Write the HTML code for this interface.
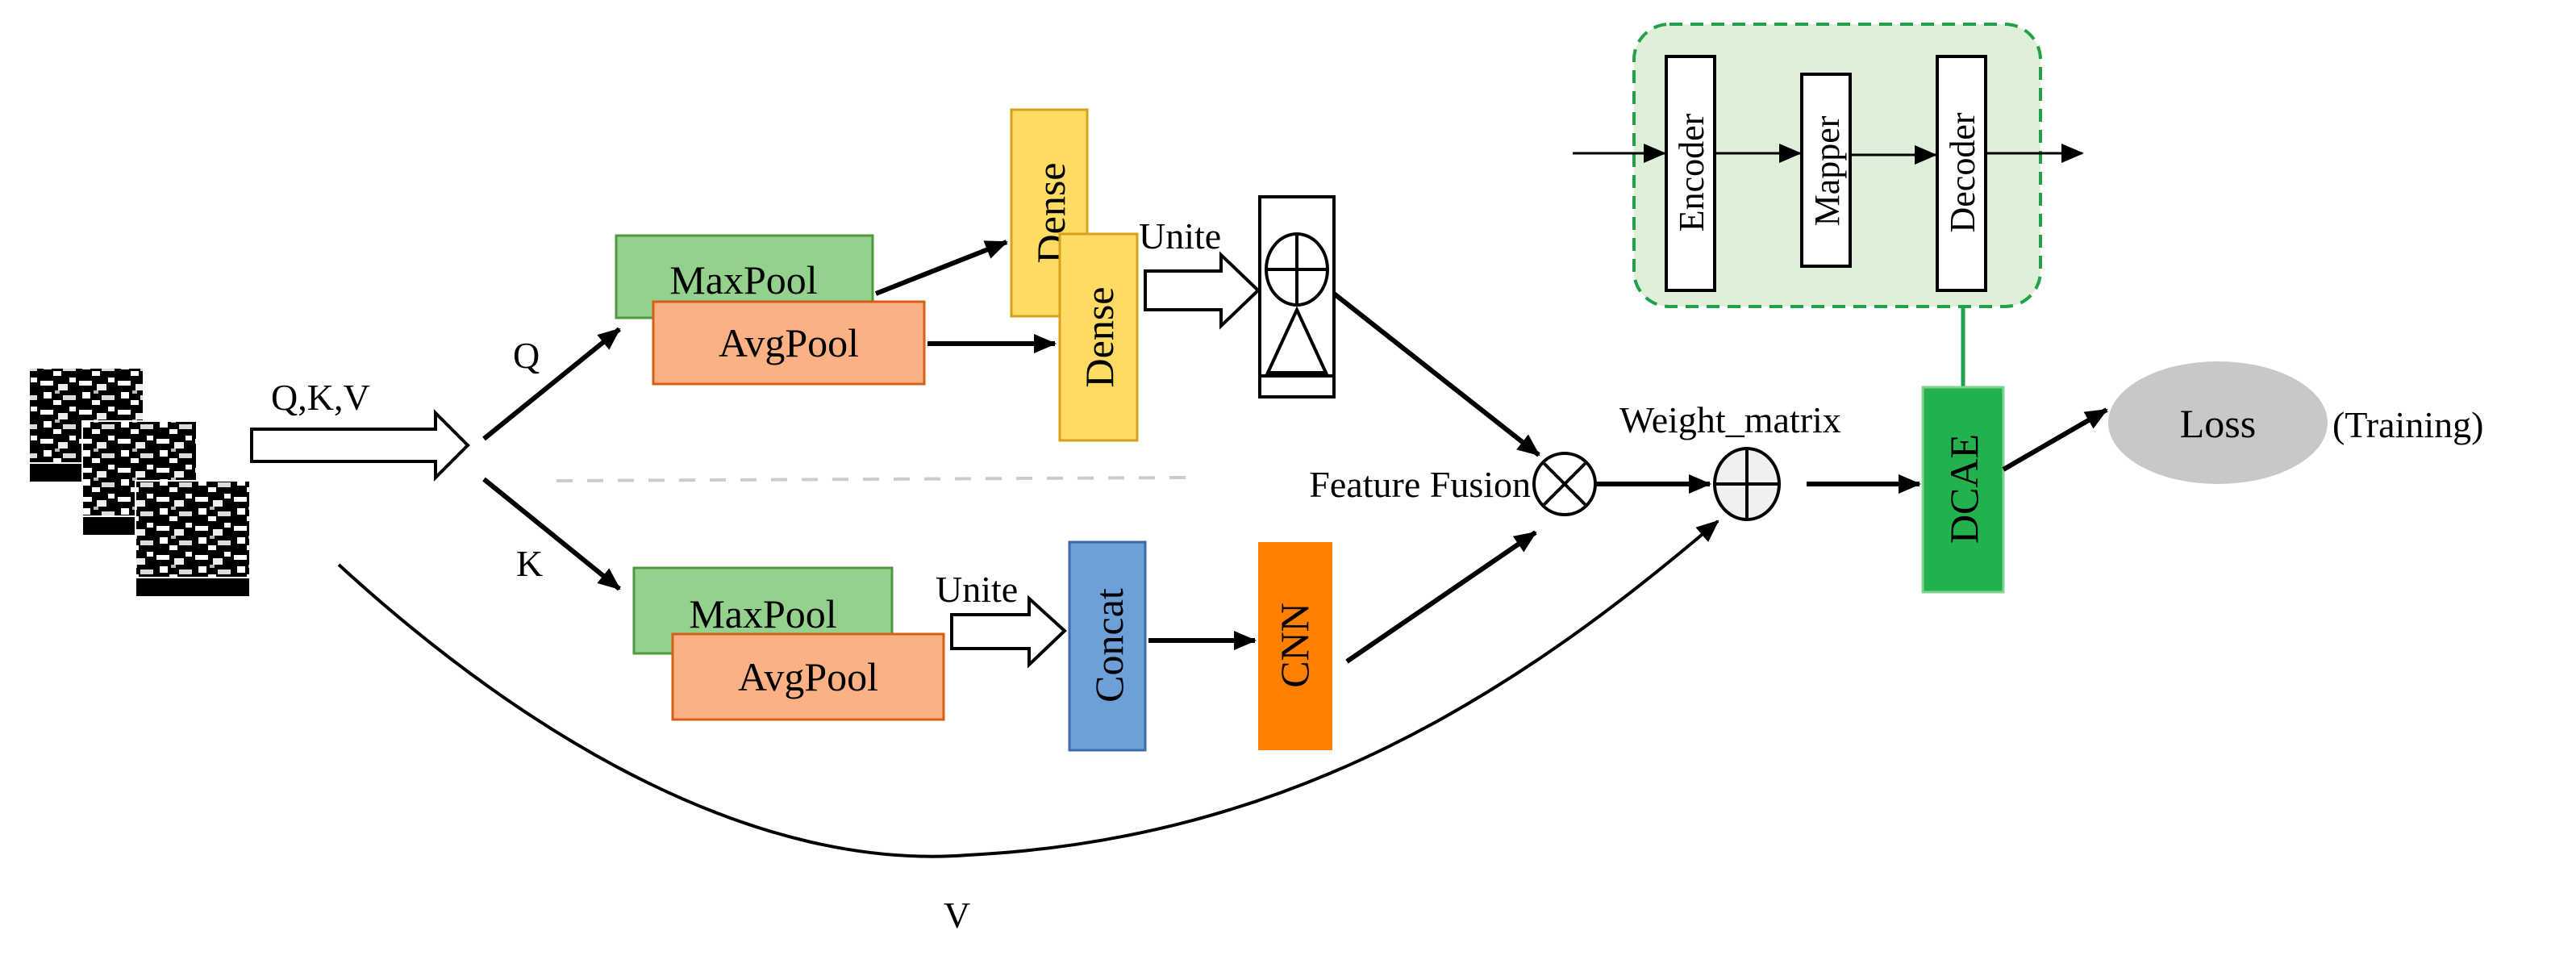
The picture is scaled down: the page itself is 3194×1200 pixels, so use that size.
<!DOCTYPE html>
<html><head><meta charset="utf-8"><style>
html,body{margin:0;padding:0;background:#fff}
svg{display:block}
svg text{font-family:"Liberation Serif","Times New Roman",serif;fill:#000}
</style></head><body>
<svg width="3194" height="1200" viewBox="0 0 1597 600" xmlns="http://www.w3.org/2000/svg" font-family="Liberation Serif, serif">
<defs>
<marker id="ahb" markerWidth="14" markerHeight="12" refX="13" refY="6" orient="auto" markerUnits="userSpaceOnUse"><path d="M0,0 L14,6 L0,12 z" fill="#000"/></marker>
<pattern id="nz" width="24" height="18" patternUnits="userSpaceOnUse">
<rect width="24" height="18" fill="#000"/>
<rect x="1" y="2" width="8" height="3" fill="#fff"/><rect x="12" y="4" width="6" height="4" fill="#eee"/>
<rect x="3" y="9" width="5" height="4" fill="#fff"/><rect x="15" y="11" width="8" height="3" fill="#ddd"/>
<rect x="9" y="14" width="5" height="3" fill="#fff"/><rect x="19" y="0" width="4" height="3" fill="#fff"/>
<rect x="10" y="8" width="3" height="2" fill="#bbb"/>
</pattern>
</defs>
<g stroke="#fff" stroke-width="1">
<rect x="18" y="228" width="71" height="71" fill="url(#nz)"/>
<rect x="18" y="287" width="71" height="12" fill="#000"/>
<rect x="51" y="261" width="71" height="71" fill="url(#nz)"/>
<rect x="51" y="320" width="71" height="12" fill="#000"/>
<rect x="84" y="298" width="71" height="72" fill="url(#nz)"/>
<rect x="84" y="358" width="71" height="12" fill="#000"/>
</g>
<text x="168" y="254" font-size="23">Q,K,V</text>
<path d="M156,266 L270,266 L270,256 L290,276 L270,296 L270,286 L156,286 z" fill="#fff" stroke="#000" stroke-width="2"/>
<line x1="300" y1="272" x2="384" y2="204" stroke="#000" stroke-width="3" marker-end="url(#ahb)"/>
<line x1="300" y1="297" x2="384" y2="365" stroke="#000" stroke-width="3" marker-end="url(#ahb)"/>
<text x="318" y="228" font-size="23">Q</text>
<text x="320" y="357" font-size="23">K</text>
<line x1="345" y1="298" x2="738" y2="296" stroke="#ccc" stroke-width="2" stroke-dasharray="10,9"/>
<rect x="382" y="146" width="159" height="51" fill="#93d18c" stroke="#4e9a40" stroke-width="1.5"/>
<text x="461" y="182" font-size="25" text-anchor="middle">MaxPool</text>
<rect x="405" y="187" width="168" height="51" fill="#fbb183" stroke="#d45f16" stroke-width="1.5"/>
<text x="489" y="221" font-size="25" text-anchor="middle">AvgPool</text>
<line x1="543" y1="182" x2="624" y2="150" stroke="#000" stroke-width="3" marker-end="url(#ahb)"/>
<line x1="575" y1="213" x2="654" y2="213" stroke="#000" stroke-width="3" marker-end="url(#ahb)"/>
<rect x="627" y="68" width="47" height="128" fill="#fedb62" stroke="#d6a21a" stroke-width="1.5"/>
<text transform="translate(660,132) rotate(-90)" font-size="25" text-anchor="middle">Dense</text>
<rect x="657" y="145" width="48" height="128" fill="#fedb62" stroke="#d6a21a" stroke-width="1.5"/>
<text transform="translate(690,209) rotate(-90)" font-size="25" text-anchor="middle">Dense</text>
<text x="706" y="154" font-size="23">Unite</text>
<path d="M710,168 L757,168 L757,158 L780,180 L757,202 L757,192 L710,192 z" fill="#fff" stroke="#000" stroke-width="2"/>
<rect x="781" y="122" width="46" height="124" fill="#fff" stroke="#000" stroke-width="2"/>
<ellipse cx="804" cy="167" rx="19" ry="22" fill="#fff" stroke="#000" stroke-width="2"/>
<line x1="785" y1="167" x2="823" y2="167" stroke="#000" stroke-width="2"/>
<line x1="804" y1="145" x2="804" y2="189" stroke="#000" stroke-width="2"/>
<path d="M804,192 L786,231 L822,231 z" fill="#fff" stroke="#000" stroke-width="2"/>
<line x1="781" y1="233" x2="827" y2="233" stroke="#000" stroke-width="2"/>
<line x1="827" y1="182" x2="954" y2="282" stroke="#000" stroke-width="3" marker-end="url(#ahb)"/>
<rect x="393" y="352" width="160" height="53" fill="#93d18c" stroke="#4e9a40" stroke-width="1.5"/>
<text x="473" y="389" font-size="25" text-anchor="middle">MaxPool</text>
<rect x="417" y="393" width="168" height="53" fill="#fbb183" stroke="#d45f16" stroke-width="1.5"/>
<text x="501" y="428" font-size="25" text-anchor="middle">AvgPool</text>
<text x="580" y="373" font-size="23">Unite</text>
<path d="M590,381 L638,381 L638,371 L660,391 L638,412 L638,402 L590,402 z" fill="#fff" stroke="#000" stroke-width="2"/>
<rect x="663" y="336" width="47" height="129" fill="#6f9fd8" stroke="#3c6aa8" stroke-width="1.5"/>
<text transform="translate(696,400) rotate(-90)" font-size="25" text-anchor="middle">Concat</text>
<line x1="712" y1="397" x2="778" y2="397" stroke="#000" stroke-width="3" marker-end="url(#ahb)"/>
<rect x="780" y="336" width="46" height="129" fill="#ff7f00"/>
<text transform="translate(811,400) rotate(-90)" font-size="25" text-anchor="middle">CNN</text>
<line x1="835" y1="410" x2="952" y2="330" stroke="#000" stroke-width="3" marker-end="url(#ahb)"/>
<path d="M210,350 C330,460 470,540 600,530 C800,520 940,430 1065,323" fill="none" stroke="#000" stroke-width="2" marker-end="url(#ahb)"/>
<text x="585" y="575" font-size="23">V</text>
<text x="949" y="308" font-size="23" text-anchor="end">Feature Fusion</text>
<circle cx="970" cy="300" r="19" fill="#fff" stroke="#000" stroke-width="2"/>
<line x1="957" y1="287" x2="983" y2="313" stroke="#000" stroke-width="2"/>
<line x1="983" y1="287" x2="957" y2="313" stroke="#000" stroke-width="2"/>
<line x1="990" y1="300" x2="1060" y2="300" stroke="#000" stroke-width="3" marker-end="url(#ahb)"/>
<text x="1004" y="268" font-size="23">Weight_matrix</text>
<ellipse cx="1083" cy="300" rx="20" ry="22" fill="#f0f0f0" stroke="#000" stroke-width="2"/>
<line x1="1063" y1="300" x2="1103" y2="300" stroke="#000" stroke-width="2"/>
<line x1="1083" y1="278" x2="1083" y2="322" stroke="#000" stroke-width="2"/>
<line x1="1120" y1="300" x2="1190" y2="300" stroke="#000" stroke-width="3" marker-end="url(#ahb)"/>
<line x1="1217" y1="190" x2="1217" y2="240" stroke="#22a04a" stroke-width="2.5"/>
<rect x="1192" y="240" width="50" height="127" fill="#22b14c" stroke="#7fd38f" stroke-width="1.5"/>
<text transform="translate(1226,303) rotate(-90)" font-size="25" text-anchor="middle">DCAE</text>
<line x1="1242" y1="291" x2="1306" y2="254" stroke="#000" stroke-width="3" marker-end="url(#ahb)"/>
<ellipse cx="1375" cy="262" rx="68" ry="38" fill="#c8c8c8"/>
<text x="1375" y="271" font-size="25" text-anchor="middle">Loss</text>
<text x="1446" y="271" font-size="23">(Training)</text>
<rect x="1013" y="15" width="252" height="175" rx="22" fill="#dff0d8" stroke="#22a04a" stroke-width="2" stroke-dasharray="8,5"/>
<rect x="1033" y="35" width="30" height="145" fill="#fff" stroke="#000" stroke-width="2"/>
<text transform="translate(1056,107) rotate(-90)" font-size="22" text-anchor="middle">Encoder</text>
<rect x="1117" y="46" width="30" height="119" fill="#fff" stroke="#000" stroke-width="2"/>
<text transform="translate(1140,106) rotate(-90)" font-size="22" text-anchor="middle">Mapper</text>
<rect x="1201" y="35" width="30" height="145" fill="#fff" stroke="#000" stroke-width="2"/>
<text transform="translate(1224,107) rotate(-90)" font-size="22" text-anchor="middle">Decoder</text>
<g stroke="#000" stroke-width="1.5">
<line x1="975" y1="95" x2="1032" y2="95" marker-end="url(#ahb)"/>
<line x1="1063" y1="95" x2="1116" y2="95" marker-end="url(#ahb)"/>
<line x1="1147" y1="96" x2="1200" y2="96" marker-end="url(#ahb)"/>
<line x1="1231" y1="95" x2="1291" y2="95" marker-end="url(#ahb)"/>
</g>
</svg>
</body></html>
